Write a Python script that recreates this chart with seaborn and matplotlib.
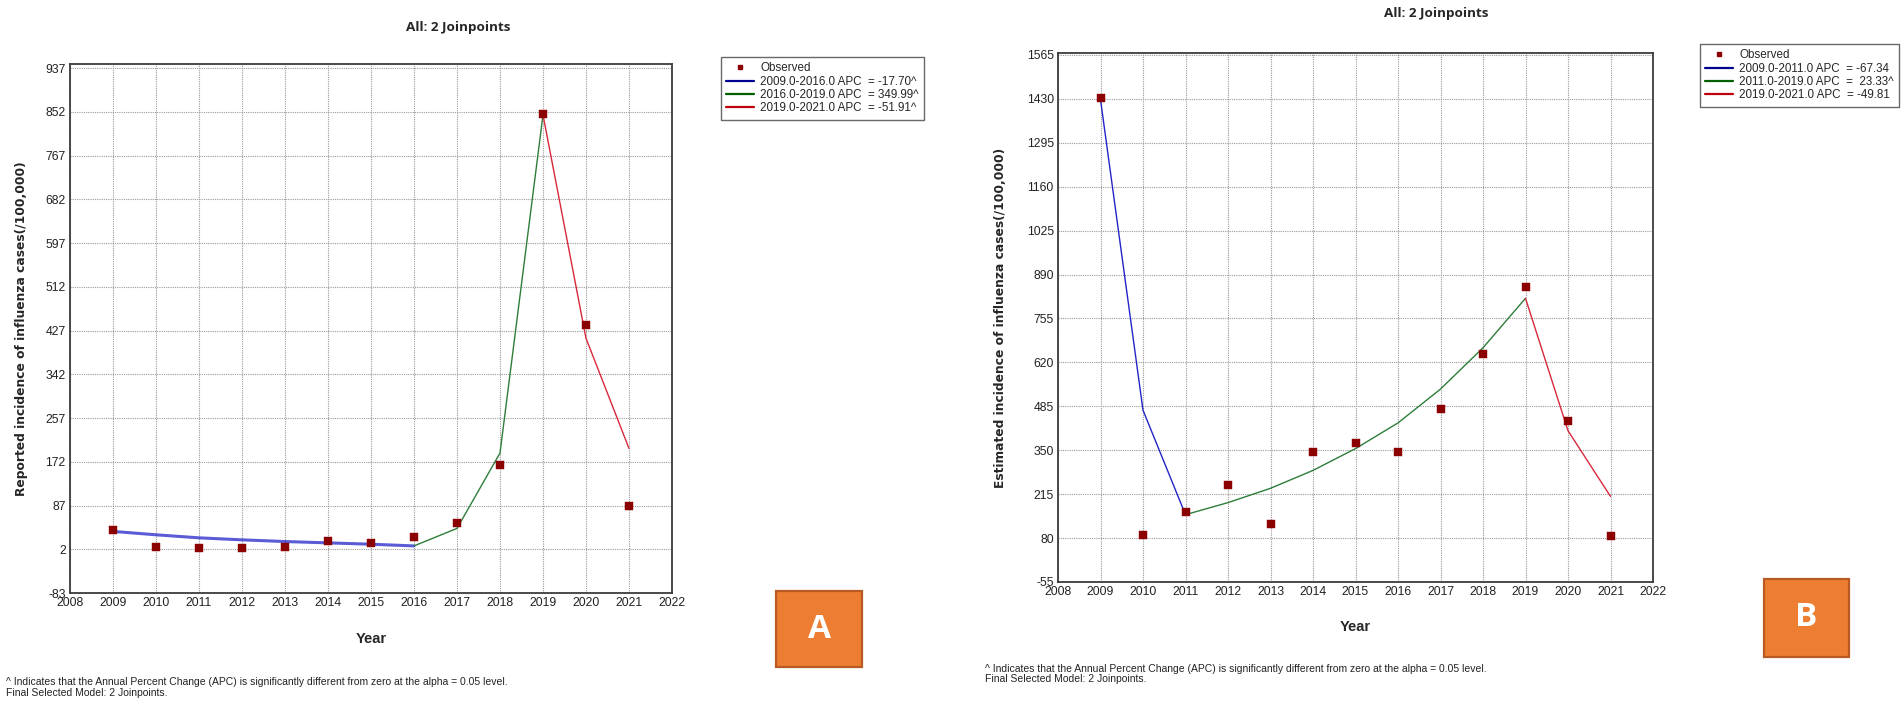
import numpy as np
import pandas as pd
import matplotlib
matplotlib.use("Agg")
import matplotlib.pyplot as plt
from matplotlib.lines import Line2D
from matplotlib.patches import Rectangle
import seaborn as sns

# ---------------- data ----------------
years = [2009, 2010, 2011, 2012, 2013, 2014, 2015, 2016, 2017, 2018, 2019, 2020, 2021]

left_observed = [39, 7, 4, 5, 6, 18, 15, 25, 54, 166, 848, 438, 86]
left_fitted = [36.7, 30.1, 24.2, 20.3, 17.0, 14.4, 11.8, 8.5, 42.5, 189, 846, 412, 198]
left_joinpoints = [2009, 2016, 2019, 2021]
left_labels = ["2009.0-2016.0 APC  = -17.70^",
               "2016.0-2019.0 APC  = 349.99^",
               "2019.0-2021.0 APC  = -51.91^"]
left_yticks = [-83, 2, 87, 172, 257, 342, 427, 512, 597, 682, 767, 852, 937]
left_ylabel = "Reported incidence of influenza cases(/100,000)"

right_observed = [1432, 89, 160, 243, 124, 346, 372, 345, 478, 645, 851, 440, 87]
right_fitted = [1428, 473, 152, 189, 233, 288, 355, 434, 538, 665, 817, 410, 208]
right_joinpoints = [2009, 2011, 2019, 2021]
right_labels = ["2009.0-2011.0 APC  = -67.34",
                "2011.0-2019.0 APC  =  23.33^",
                "2019.0-2021.0 APC  = -49.81"]
right_yticks = [-55, 80, 215, 350, 485, 620, 755, 890, 1025, 1160, 1295, 1430, 1565]
right_ylabel = "Estimated incidence of influenza cases(/100,000)"

xticks = list(range(2008, 2023))
title = "All: 2 Joinpoints"
xlabel = "Year"
foot1 = "^ Indicates that the Annual Percent Change (APC) is significantly different from zero at the alpha = 0.05 level."
foot2 = "Final Selected Model: 2 Joinpoints."

# ---------------- style ----------------
sns.set_style("white")
plt.rcParams['font.family'] = ['Liberation Sans', 'DejaVu Sans']
plt.rcParams['axes.unicode_minus'] = False

W, H = 1901, 708
fig = plt.figure(figsize=(W / 100, H / 100), dpi=100)


def fx(px):
    return px / W


def fy(py):
    return 1 - py / H


seg_colors = ['#2424C8', '#2E7D3A', '#D8283C']
legend_colors = ['#000090', '#006000', '#C00010']
obs_color = '#8B0000'


def segment_frame(fitted, joins):
    rows = []
    for i in range(len(joins) - 1):
        a, b = joins[i], joins[i + 1]
        for yr, v in zip(years, fitted):
            if a <= yr <= b:
                rows.append({'year': yr, 'value': v, 'segment': f"s{i}"})
    return pd.DataFrame(rows)


def panel(rect_px, observed, fitted, joins, labels, yticks, ylim_top, ylabel,
          title_xy, legend_px, ylabel_x, xlabel_y, foot_xy, blue_lw):
    l, t, r, b = rect_px
    ax = fig.add_axes([fx(l), fy(b), (r - l) / W, (b - t) / H])
    ax.set_xlim(2008, 2022)
    ax.set_ylim(yticks[0], ylim_top)
    ax.set_xticks(xticks)
    ax.set_yticks(yticks)
    ax.grid(True, color='#9a9a9a', linestyle=(0, (1, 1)), linewidth=0.8)
    ax.set_axisbelow(True)
    for s in ax.spines.values():
        s.set_color('#3c3c3c')
        s.set_linewidth(1.3)
    ax.tick_params(axis='both', length=0, labelsize=8.8, colors='#222222', pad=3)

    df = segment_frame(fitted, joins)
    for i, seg in enumerate(sorted(df['segment'].unique())):
        sub = df[df['segment'] == seg]
        sns.lineplot(data=sub, x='year', y='value', ax=ax, color=seg_colors[i],
                     linewidth=(blue_lw if i == 0 else 1.0), legend=False,
                     alpha=(0.75 if (i == 0 and blue_lw > 1.2) else 1.0))
    obs = pd.DataFrame({'year': years, 'value': observed})
    sns.scatterplot(data=obs, x='year', y='value', ax=ax, marker='s', s=28,
                    color=obs_color, edgecolor=obs_color, linewidth=0.3,
                    legend=False, zorder=5)
    ax.set_xlabel('')
    ax.set_ylabel('')

    # title / axis labels
    fig.text(fx(title_xy[0]), fy(title_xy[1]), title, ha='center', va='center',
             fontsize=9.7, fontweight='bold', family=['Open Sans', 'DejaVu Sans'])
    fig.text(fx(ylabel_x), fy((t + b) / 2), ylabel, rotation=90, ha='center',
             va='center', fontsize=8.8, fontweight='bold',
             family=['DejaVu Sans'])
    fig.text(fx((l + r) / 2), fy(xlabel_y), xlabel, ha='center', va='center',
             fontsize=10.5, fontweight='bold', family=['Liberation Sans', 'DejaVu Sans'])
    fig.text(fx(foot_xy[0]), fy(foot_xy[1]), foot1, ha='left', va='center',
             fontsize=7.5, color='#222222')
    fig.text(fx(foot_xy[0]), fy(foot_xy[1] + 10.5), foot2, ha='left', va='center',
             fontsize=7.5, color='#222222')

    # legend
    handles = [Line2D([], [], marker='s', linestyle='none', color=obs_color,
                      markersize=3.5)]
    handles += [Line2D([], [], color=c, linewidth=1.6) for c in legend_colors]
    lab = ['Observed'] + labels
    lx0, ly0, lx1, ly1 = legend_px
    leg = ax.legend(handles, lab, loc='upper left',
                    bbox_to_anchor=(fx(lx0), fy(ly0)), bbox_transform=fig.transFigure,
                    fontsize=8.4, frameon=True, fancybox=False, shadow=False,
                    handlelength=2.4, handletextpad=0.5, borderpad=0.45,
                    labelspacing=0.12, borderaxespad=0)
    leg.get_frame().set_edgecolor('#444444')
    leg.get_frame().set_linewidth(1.0)
    return ax


panel((70, 64, 672, 593), left_observed, left_fitted, left_joinpoints, left_labels,
      left_yticks, 945, left_ylabel, (458, 27), (721, 57, 913, 121), 22, 639,
      (6, 682), 2.2)
panel((1058, 53, 1653, 582), right_observed, right_fitted, right_joinpoints,
      right_labels, right_yticks, 1571, right_ylabel, (1436, 14),
      (1700, 44, 1891, 108), 1000, 627, (985, 669), 1.0)

# letter badges
for (x0, y0, x1, y1, letter) in [(776, 591, 862, 667, 'A'), (1764, 579, 1849, 657, 'B')]:
    fig.patches.append(Rectangle((fx(x0), fy(y1)), (x1 - x0) / W, (y1 - y0) / H,
                                 transform=fig.transFigure, facecolor='#ED7D31',
                                 edgecolor='#B85A22', linewidth=1.6))
    fig.text(fx((x0 + x1) / 2), fy((y0 + y1) / 2), letter, ha='center', va='center',
             fontsize=24, fontweight='bold', color='white',
             family=['Open Sans', 'DejaVu Sans'])

fig.savefig('out.png', dpi=100, facecolor='white')
